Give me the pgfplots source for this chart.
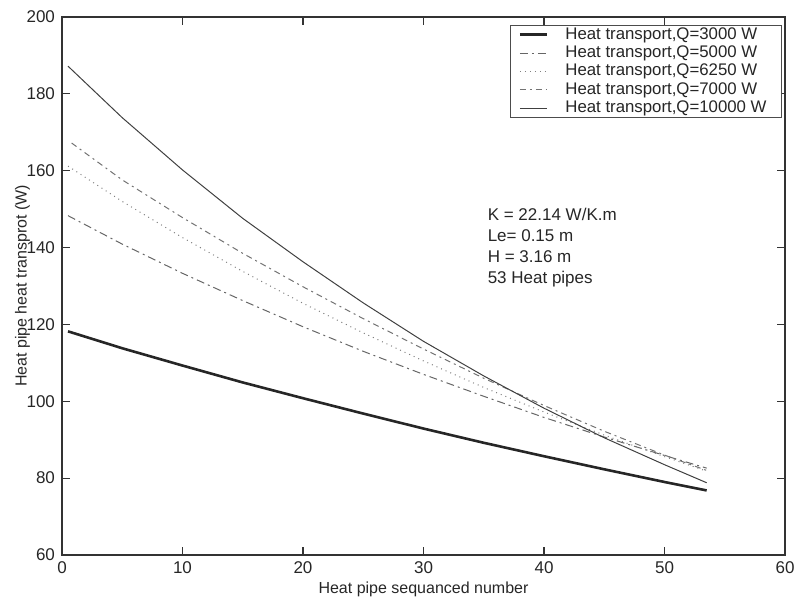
\documentclass[border=0pt]{standalone}
\usepackage{fontspec}
\setmainfont{Liberation Sans}
\usepackage{pgfplots}
\pgfplotsset{compat=1.18}
\begin{document}
\begin{tikzpicture}
\begin{axis}[
  scale only axis, width=361.5pt, height=269pt,
  xmin=0, xmax=60, ymin=60, ymax=200,
  xtick={0,10,...,60}, ytick={60,80,...,200},
  tick align=inside, tick pos=both,
  major tick length=4pt,
  axis line style={black!80, line width=0.6pt},
  tick style={black!80, line width=0.6pt},
  /pgf/number format/assume math mode=true,
  tick label style={font=\fontsize{8.5}{10}\selectfont, text=black!85},
  label style={font=\fontsize{8}{10}\selectfont, text=black!85},
  xlabel={Heat pipe sequanced number},
  ylabel={Heat pipe heat transprot (W)},
  xlabel style={yshift=3pt},
  ylabel style={yshift=-8.5pt},
  legend style={at={(rel axis cs:0.996,0.986)}, anchor=north east,
    font=\fontsize{8.4}{9.5}\selectfont, draw=black!70, line width=0.5pt,
    inner xsep=4pt, inner ysep=-0.8pt, row sep=-2.2pt, text=black!85,
    nodes={inner xsep=3.5pt}},
  legend cell align=left,
  legend image post style={xscale=0.8},
]
\addplot[black!85, line width=1.3pt] coordinates {
(0.5,118.2) (5,113.8) (10,109.3) (15,104.9) (20,100.8) (25,96.8) (30,92.9) (35,89.2) (40,85.7) (45,82.3) (50,79.0) (53.5,76.8)};
\addlegendentry{\hspace{5pt}Heat transport,Q=3000 W}
\addplot[black!60, line width=0.5pt, dash pattern=on 4pt off 2pt on 1pt off 2pt] coordinates {
(0.5,148.3) (5,140.9) (10,133.3) (15,126.2) (20,119.4) (25,113.0) (30,107.0) (35,101.3) (40,95.8) (45,90.7) (50,85.9) (53.5,82.6)};
\addlegendentry{\hspace{5pt}Heat transport,Q=5000 W}
\addplot[black!50, line width=0.5pt, dotted] coordinates {
(0.5,161.2) (5,152.0) (10,142.6) (15,133.8) (20,125.5) (25,117.8) (30,110.5) (35,103.6) (40,97.2) (45,91.2) (50,85.6) (53.5,81.8)};
\addlegendentry{\hspace{5pt}Heat transport,Q=6250 W}
\addplot[black!55, line width=0.5pt, dash pattern=on 3pt off 2pt on 1pt off 2pt] coordinates {
(0.8,167.2) (5,157.6) (10,147.8) (15,138.5) (20,129.8) (25,121.5) (30,113.6) (35,106.0) (40,98.9) (45,92.2) (50,86.0) (53.5,82.0)};
\addlegendentry{\hspace{5pt}Heat transport,Q=7000 W}
\addplot[black!75, line width=0.5pt] coordinates {
(0.5,187.2) (5,173.8) (10,160.2) (15,147.6) (20,136.3) (25,125.6) (30,115.6) (35,106.6) (40,98.2) (45,90.5) (50,83.5) (53.5,78.8)};
\addlegendentry{\hspace{5pt}Heat transport,Q=10000 W\hspace{3pt}}
\node[anchor=north west, align=left, font=\fontsize{8.5}{10.5}\selectfont, text=black!85, inner sep=0pt]
  at (axis cs:35.3,150.3) {K = 22.14 W/K.m\\Le= 0.15 m\\H = 3.16 m\\53 Heat pipes};
\end{axis}
\pgfresetboundingbox
\useasboundingbox ([xshift=-31pt,yshift=-24.5pt]current axis.south west) rectangle ([xshift=5.5pt,yshift=8.5pt]current axis.north east);
\end{tikzpicture}
\end{document}
